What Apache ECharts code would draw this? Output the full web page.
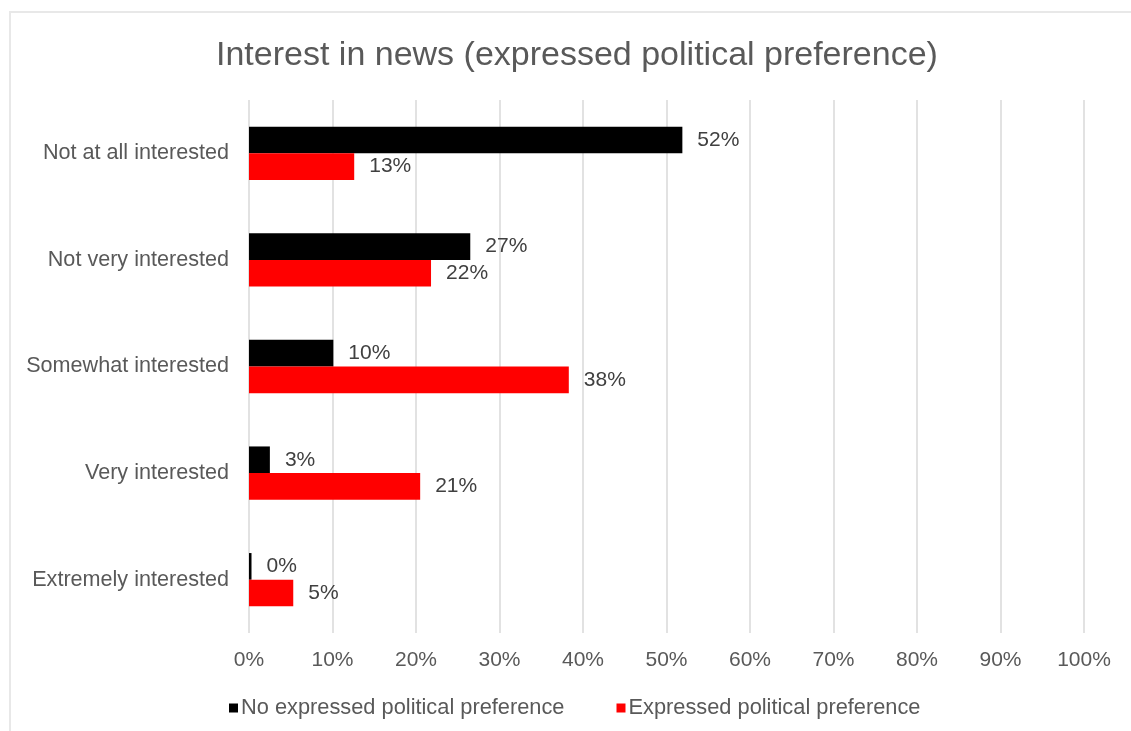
<!DOCTYPE html>
<html>
<head>
<meta charset="utf-8">
<script src="https://cdn.jsdelivr.net/npm/echarts@6/dist/echarts.min.js"></script>
<style>
  html, body { margin: 0; padding: 0; background: #fff; }
  #main { width: 1131px; height: 731px; }
</style>
</head>
<body>
<div id="main"></div>
<script>
var categories = ['Not at all interested', 'Not very interested', 'Somewhat interested', 'Very interested', 'Extremely interested'];
var noPreference = [51.9, 26.5, 10.1, 2.5, 0.3];
var expressedPreference = [12.6, 21.8, 38.3, 20.5, 5.3];
var seriesNames = ['No expressed political preference', 'Expressed political preference'];

var myChart = echarts.init(document.getElementById('main'));
var font = 'Liberation Sans, Arial, sans-serif';

var option = {
    backgroundColor: '#fff',
    animation: false,
    title: {
        text: 'Interest in news (expressed political preference)',
        left: 211,
        top: 34,
        textStyle: { fontFamily: font, fontSize: 34, fontWeight: 'normal', color: '#595959' }
    },
    graphic: [{
        type: 'rect',
        shape: { x: 10, y: 12, width: 1200, height: 800 },
        style: { fill: null, stroke: '#e8e8e8', lineWidth: 2 },
        silent: true
    }],
    legend: {
        data: seriesNames,
        top: 692,
        left: 224,
        icon: 'rect',
        itemWidth: 9,
        itemHeight: 9,
        itemGap: 52,
        textStyle: { fontFamily: font, fontSize: 21.8, color: '#595959', padding: [0, 0, 0, -2] }
    },
    grid: {
        left: 249,
        right: 47,
        top: 100,
        bottom: 98
    },
    xAxis: {
        type: 'value',
        min: 0,
        max: 100,
        interval: 10,
        axisLine: { show: false },
        axisTick: { show: false },
        splitLine: { lineStyle: { color: '#d9d9d9', width: 1.5 } },
        axisLabel: {
            margin: 17,
            formatter: '{value}%',
            fontFamily: font,
            fontSize: 21,
            color: '#595959'
        }
    },
    yAxis: {
        type: 'category',
        inverse: true,
        data: categories,
        axisLine: { show: false },
        axisTick: { show: false },
        axisLabel: {
            margin: 20,
            fontFamily: font,
            fontSize: 21.6,
            color: '#595959'
        }
    },
    series: [
        {
            name: seriesNames[0],
            type: 'bar',
            data: noPreference,
            barGap: '0%',
            barCategoryGap: '50%',
            itemStyle: { color: '#000000' },
            label: {
                show: true,
                position: 'right',
                distance: 15,
                fontFamily: font,
                fontSize: 21,
                color: '#404040',
                formatter: function (p) { return Math.round(p.value) + '%'; }
            }
        },
        {
            name: seriesNames[1],
            type: 'bar',
            data: expressedPreference,
            barGap: '0%',
            barCategoryGap: '50%',
            itemStyle: { color: '#ff0000' },
            label: {
                show: true,
                position: 'right',
                distance: 15,
                fontFamily: font,
                fontSize: 21,
                color: '#404040',
                formatter: function (p) { return Math.round(p.value) + '%'; }
            }
        }
    ]
};
myChart.setOption(option);
</script>
</body>
</html>
